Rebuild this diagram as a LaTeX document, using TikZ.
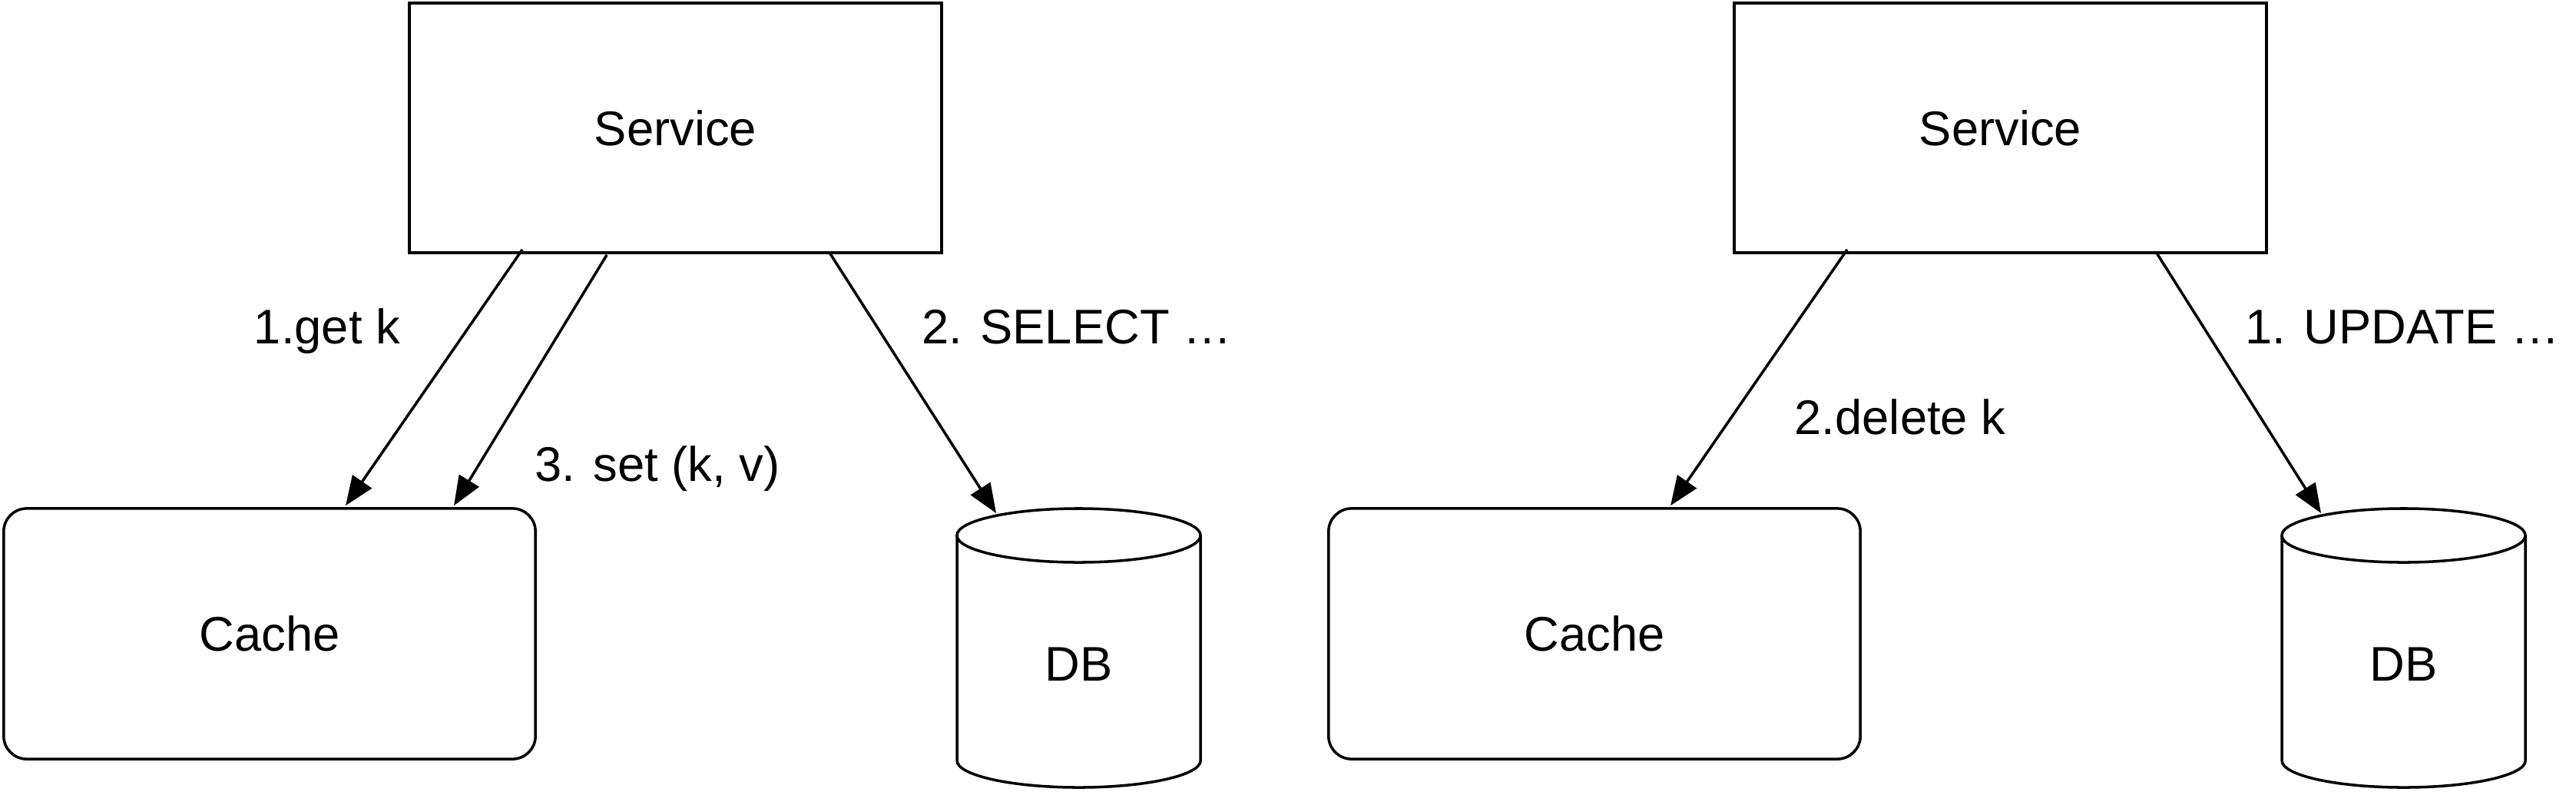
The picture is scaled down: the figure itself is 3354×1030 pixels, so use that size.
\documentclass[tikz,border=0pt]{standalone}
\usepackage{fontspec}
\setmainfont{Liberation Sans}
\usetikzlibrary{arrows.meta,calc}
\begin{document}
\begin{tikzpicture}[x=0.01cm,y=-0.01cm,
  every node/.style={font=\fontsize{18}{21.6}\selectfont},
  box/.style={draw, line width=1pt, minimum width=6.93cm, minimum height=3.25cm, inner sep=0},
  cachebox/.style={draw, line width=1pt, rounded corners=0.3cm, minimum width=6.92cm, minimum height=3.26cm, inner sep=0},
  dbtext/.style={inner sep=0},
  cyl/.style={line width=1pt},
  arr/.style={line width=1pt, -{Triangle[length=0.38cm,width=0.3cm]}},
  lbl/.style={anchor=base, inner sep=0}]
\useasboundingbox (0,0) rectangle (3354,1030);

% ---------- left half ----------
\node[box] (svcL) at (879.5,166.5) {Service};
\node[cachebox] (cacheL) at (351,825) {Cache};
\node[dbtext] (dbL) at (1404.5,865) {DB};
\draw[cyl] ($(dbL.center)+(0,-168)$) ellipse [x radius=1.585cm, y radius=0.35cm];
\draw[cyl] ($(dbL.center)+(-158.5,-168)$) -- ($(dbL.center)+(-158.5,125)$)
  arc[start angle=180, end angle=360, x radius=1.585cm, y radius=0.35cm]
  -- ($(dbL.center)+(158.5,-168)$);

\coordinate (l1s) at ($(svcL.south west)+(149,-6)$);
\coordinate (l1e) at ($(cacheL.north west)+(447,-2)$);
\coordinate (l3s) at ($(svcL.south west)+(259,1)$);
\coordinate (l3e) at ($(cacheL.north west)+(588,-2)$);
\coordinate (l2s) at ($(svcL.south west)+(549,-2)$);
\coordinate (l2e) at ($(dbL.center)+(-107.5,-197)$);
\draw[arr] (l1s) -- (l1e);
\draw[arr] (l3s) -- (l3e);
\draw[arr] (l2s) -- (l2e);

\node[lbl] (t1L) at (426,447) {1.get k};
\node[lbl] (t3L) at (856,626) {3. set (k, v)};
\node[lbl] (t2L) at (1402,447) {2. SELECT …};

% ---------- right half ----------
\node[box] (svcR) at (2604.5,166.5) {Service};
\node[cachebox] (cacheR) at (2076,825) {Cache};
\node[dbtext] (dbR) at (3129.5,865) {DB};
\draw[cyl] ($(dbR.center)+(0,-168)$) ellipse [x radius=1.585cm, y radius=0.35cm];
\draw[cyl] ($(dbR.center)+(-158.5,-168)$) -- ($(dbR.center)+(-158.5,125)$)
  arc[start angle=180, end angle=360, x radius=1.585cm, y radius=0.35cm]
  -- ($(dbR.center)+(158.5,-168)$);

\coordinate (r2s) at ($(svcR.south west)+(149,-6)$);
\coordinate (r2e) at ($(cacheR.north west)+(447,-2)$);
\coordinate (r1s) at ($(svcR.south west)+(551,-3)$);
\coordinate (r1e) at ($(dbR.center)+(-107.5,-197)$);
\draw[arr] (r2s) -- (r2e);
\draw[arr] (r1s) -- (r1e);

\node[lbl] (t2R) at (2474,565) {2.delete k};
\node[lbl] (t1R) at (3128,447) {1. UPDATE …};
\end{tikzpicture}
\end{document}
